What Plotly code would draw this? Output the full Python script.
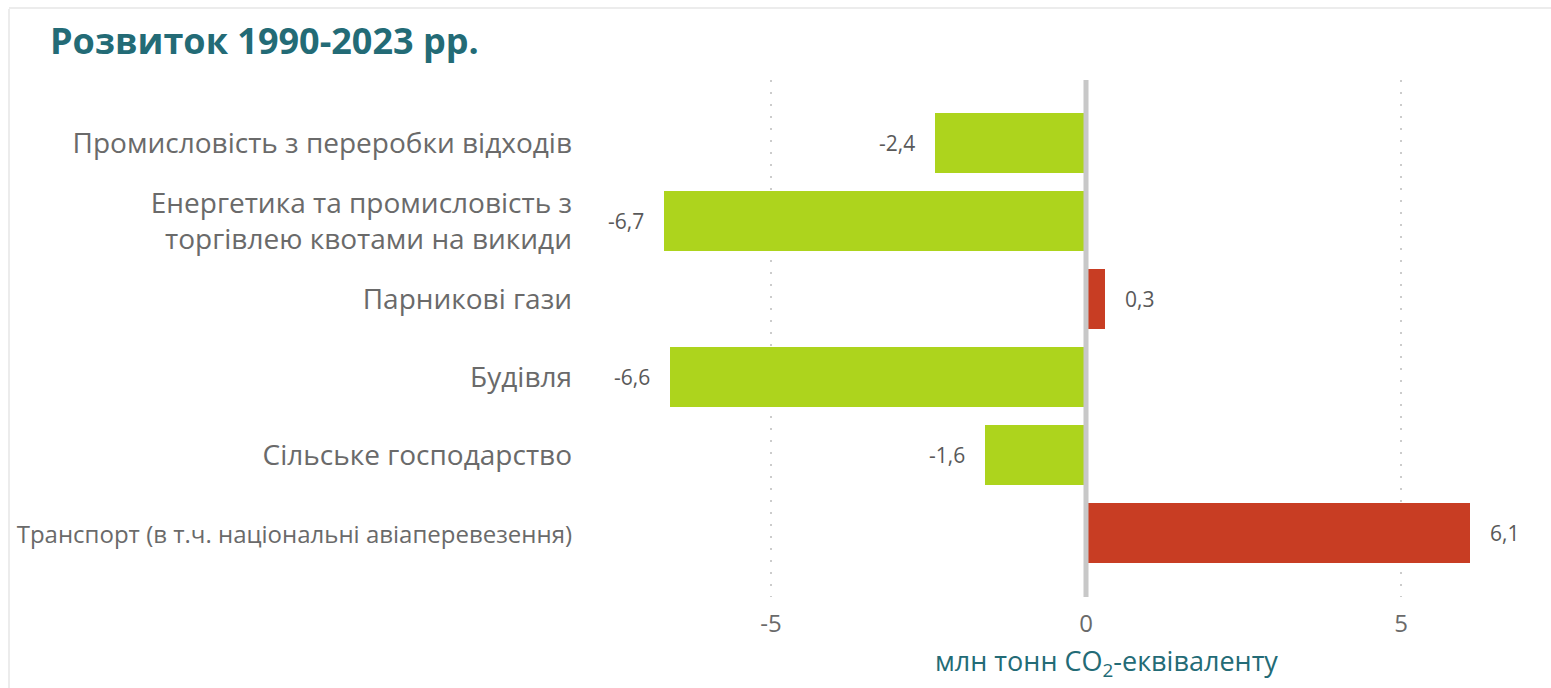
import plotly.graph_objects as go

# Change in emissions 1990-2023, by sector (million tonnes CO2-equivalent)
sectors = [
    "Промисловість з переробки відходів",
    "Енергетика та промисловість з<br>торгівлею квотами на викиди",
    "Парникові гази",
    "Будівля",
    "Сільське господарство",
    "<span style=\"font-size:24px\">Транспорт (в т.ч. національні авіаперевезення)</span>",
]
changes = [-2.4, -6.7, 0.3, -6.6, -1.6, 6.1]

tick_vals = [-5, 0, 5]
tick_text = ["-5", "0", "5"]

GREEN = "#add41d"
RED = "#c83d23"
TEAL = "#236b76"
GREY_TEXT = "#6a6a6a"
FONT = "Open Sans"

W, H = 1551, 688
ML, MR, MT, MB = 585, 10, 80, 91
X_RANGE = [-7.95, 7.22]
Y_RANGE = [5.82, -0.81]

colors = [RED if v > 0 else GREEN for v in changes]

fig = go.Figure(
    go.Bar(
        x=changes,
        y=list(range(len(sectors))),
        orientation="h",
        marker=dict(color=colors, line=dict(width=0)),
        width=0.77,
        hoverinfo="skip",
    )
)

# value labels beside each bar
for i, v in enumerate(changes):
    fig.add_annotation(
        x=v, y=i, xref="x", yref="y",
        text=f"{v:.1f}".replace(".", ","),
        showarrow=False,
        xanchor="left" if v > 0 else "right",
        xshift=18 if v > 0 else -18,
        font=dict(family=FONT, size=21, color="#595959"),
    )

# zero reference line drawn over the bars
fig.add_shape(
    type="line", xref="x", yref="paper",
    x0=0, x1=0, y0=0, y1=1,
    line=dict(color="#c8c8c8", width=5),
    layer="above",
)

plot_w = W - ML - MR
plot_h = H - MT - MB


def px_x(p):
    return (p - ML) / plot_w


def px_y(p):
    return 1 - (p - MT) / plot_h


# faint card outline
fig.add_shape(type="line", xref="paper", yref="paper",
              x0=px_x(9), x1=px_x(9), y0=px_y(9), y1=px_y(688),
              line=dict(color="#ececec", width=2), layer="below")
fig.add_shape(type="line", xref="paper", yref="paper",
              x0=px_x(9), x1=px_x(1551), y0=px_y(8), y1=px_y(8),
              line=dict(color="#ececec", width=2), layer="below")

# chart title
fig.add_annotation(
    x=px_x(48), y=px_y(40), xref="paper", yref="paper",
    text="<b>Розвиток 1990-2023 рр.</b>",
    showarrow=False, xanchor="left", yanchor="middle",
    font=dict(family=FONT, size=36, color=TEAL),
)

# axis unit label
fig.add_annotation(
    x=px_x(1106), y=px_y(662), xref="paper", yref="paper",
    text="млн тонн CO<sub>2</sub>-еквіваленту",
    showarrow=False, xanchor="center", yanchor="middle",
    font=dict(family=FONT, size=27, color=TEAL),
)

fig.update_layout(
    width=W, height=H,
    margin=dict(l=ML, r=MR, t=MT, b=MB, autoexpand=False),
    paper_bgcolor="white",
    plot_bgcolor="white",
    showlegend=False,
    font=dict(family=FONT, color=GREY_TEXT),
    bargap=0,
    xaxis=dict(
        range=X_RANGE,
        tickvals=tick_vals,
        ticktext=tick_text,
        showgrid=True,
        gridcolor="#cccccc",
        gridwidth=2,
        griddash="2px,10px",
        zeroline=False,
        showline=False,
        ticks="",
        ticklabelstandoff=10,
        tickfont=dict(family=FONT, size=24, color=GREY_TEXT),
        fixedrange=True,
    ),
    yaxis=dict(
        range=Y_RANGE,
        tickmode="array",
        tickvals=list(range(len(sectors))),
        ticktext=sectors,
        showgrid=False,
        zeroline=False,
        showline=False,
        ticks="",
        ticklabelstandoff=12,
        tickfont=dict(family=FONT, size=28, color=GREY_TEXT),
        fixedrange=True,
    ),
)

fig.write_html("out.html", config={"displayModeBar": False})
